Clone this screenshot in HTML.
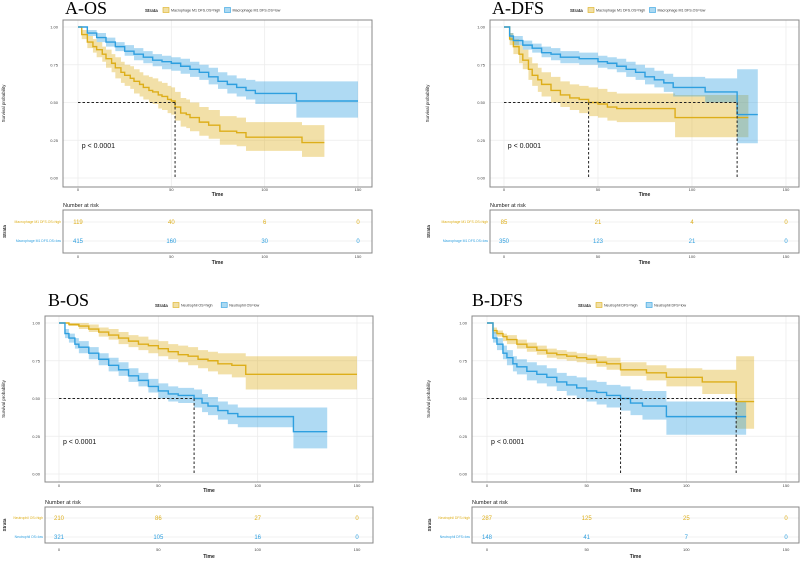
<!DOCTYPE html>
<html><head><meta charset="utf-8">
<style>
html,body{margin:0;padding:0;background:#fff;}
svg{display:block;font-family:"Liberation Sans",sans-serif;}
</style></head>
<body>
<svg id="fig" width="800" height="561" viewBox="0 0 800 561"></svg>
<script>
// ---- data arrays ----
const aosHighT=[0,2,5,8,10,13,15,18,20,23,25,28,30,33,35,38,40,43,45,48,50,52,55,58,60,65,70,76,85,90,100,110,120,132];
const aosHighS=[1,.95,.90,.87,.85,.82,.79,.76,.73,.70,.68,.66,.64,.62,.60,.58,.57,.55,.54,.52,.51,.47,.43,.42,.40,.37,.35,.31,.30,.27,.27,.27,.235,.235];
const aosHighLo=[1,.92,.86,.83,.80,.77,.73,.70,.66,.63,.61,.59,.56,.54,.52,.50,.49,.46,.45,.43,.42,.38,.34,.33,.31,.28,.26,.22,.21,.18,.18,.18,.14,.14];
const aosHighHi=[1,.98,.94,.92,.90,.87,.85,.82,.80,.77,.75,.74,.72,.70,.68,.67,.66,.64,.63,.61,.60,.57,.53,.52,.50,.47,.45,.41,.40,.37,.37,.37,.35,.35];
const aosLowT=[0,5,10,15,20,25,30,35,40,45,50,55,60,65,70,75,80,85,90,95,117,150];
const aosLowS=[1,.96,.93,.90,.87,.84,.82,.80,.78,.77,.76,.74,.72,.70,.67,.64,.62,.60,.58,.56,.51,.51];
const aosLowLo=[1,.94,.90,.87,.84,.81,.78,.76,.74,.72,.71,.69,.67,.65,.62,.59,.56,.54,.52,.49,.40,.40];
const aosLowHi=[1,.98,.96,.93,.90,.88,.86,.84,.82,.81,.80,.79,.77,.75,.73,.70,.68,.66,.65,.64,.64,.64];

const adfsHighT=[0,3,5,8,10,13,15,18,20,25,30,35,40,45,50,55,60,91,130];
const adfsHighS=[1,.92,.87,.82,.78,.72,.68,.65,.62,.58,.55,.53,.52,.50,.49,.47,.46,.40,.40];
const adfsHighLo=[1,.88,.82,.76,.72,.65,.61,.57,.54,.50,.47,.45,.43,.41,.40,.38,.37,.27,.27];
const adfsHighHi=[1,.96,.92,.88,.85,.80,.76,.73,.70,.67,.64,.62,.61,.60,.59,.57,.56,.55,.55];
const adfsLowT=[0,3,5,10,15,20,25,30,40,50,55,60,65,70,75,80,85,90,107,124,135];
const adfsLowS=[1,.94,.91,.88,.86,.83,.82,.80,.79,.77,.76,.74,.72,.70,.67,.65,.63,.60,.57,.42,.42];
const adfsLowLo=[1,.91,.88,.85,.83,.80,.78,.76,.75,.73,.72,.70,.67,.65,.62,.60,.57,.54,.50,.23,.23];
const adfsLowHi=[1,.96,.94,.91,.89,.87,.86,.84,.83,.81,.80,.79,.77,.75,.73,.71,.69,.67,.66,.72,.72];

const bosHighT=[0,5,10,15,20,25,30,35,40,45,50,55,60,65,70,75,80,87,94,150];
const bosHighS=[1,.99,.98,.96,.94,.92,.90,.88,.86,.85,.83,.81,.79,.78,.76,.75,.73,.72,.66,.66];
const bosHighLo=[1,.98,.96,.94,.91,.89,.86,.84,.82,.80,.78,.76,.74,.72,.70,.68,.66,.64,.56,.56];
const bosHighHi=[1,1,1,.99,.97,.96,.94,.92,.91,.89,.88,.86,.85,.84,.82,.81,.80,.80,.78,.78];
const bosLowT=[0,3,5,8,10,15,20,25,30,35,40,45,50,55,60,68,72,75,80,85,90,118,135];
const bosLowS=[1,.93,.90,.86,.84,.80,.76,.72,.69,.65,.62,.58,.55,.53,.52,.50,.47,.45,.42,.40,.38,.28,.28];
const bosLowLo=[1,.90,.87,.83,.80,.76,.72,.68,.65,.61,.58,.54,.50,.48,.47,.44,.41,.39,.36,.33,.31,.17,.17];
const bosLowHi=[1,.96,.93,.90,.88,.84,.80,.77,.74,.70,.67,.63,.60,.58,.57,.56,.53,.51,.48,.46,.44,.44,.44];

const bdfsHighT=[0,3,5,8,10,15,20,25,30,35,40,45,50,55,60,67,80,90,108,125,134];
const bdfsHighS=[1,.95,.93,.91,.89,.86,.84,.82,.80,.79,.78,.77,.76,.74,.73,.69,.67,.64,.61,.48,.48];
const bdfsHighLo=[1,.93,.91,.88,.86,.83,.81,.79,.77,.76,.75,.74,.73,.71,.69,.65,.62,.58,.53,.30,.30];
const bdfsHighHi=[1,.97,.95,.93,.92,.89,.87,.85,.83,.82,.81,.80,.79,.78,.77,.74,.72,.70,.69,.78,.78];
const bdfsLowT=[0,3,5,8,10,13,15,20,25,30,35,40,45,50,55,60,67,72,78,90,130];
const bdfsLowS=[1,.90,.86,.80,.77,.73,.71,.68,.66,.64,.61,.59,.57,.55,.54,.52,.50,.47,.45,.38,.38];
const bdfsLowLo=[1,.87,.82,.76,.72,.68,.66,.62,.60,.58,.55,.52,.50,.48,.46,.44,.42,.39,.36,.26,.26];
const bdfsLowHi=[1,.94,.90,.85,.82,.78,.76,.74,.72,.70,.67,.65,.64,.62,.61,.59,.58,.56,.55,.48,.48];

const aosRiskHigh=[119,40,6,0], aosRiskLow=[415,160,30,0];
const adfsRiskHigh=[85,21,4,0], adfsRiskLow=[350,123,21,0];
const bosRiskHigh=[210,86,27,0], bosRiskLow=[321,105,16,0];
const bdfsRiskHigh=[287,125,25,0], bdfsRiskLow=[148,41,7,0];

const xTicks=[0,50,100,150];
const yTicks=[0,0.25,0.5,0.75,1];
const yTickLabels=["0.00","0.25","0.50","0.75","1.00"];

const ORANGE="#DDAE1A", BLUE="#2E9FDF";
const NS="http://www.w3.org/2000/svg";
const svg=document.getElementById('fig');
function mk(tag,attrs,parent){const e=document.createElementNS(NS,tag);for(const k in attrs)e.setAttribute(k,attrs[k]);(parent||svg).appendChild(e);return e;}

const panels=[
 {id:'a-os',title:'A-OS',box:[63,20,372,187],xr:[78,358],yr:[27,178],risk:[63,210,372,253],rows:[222,241],tickY:191,timeY:196,rTickY:258,rTimeY:264,ytx:5,tx:65,ty:14,lx:145,ly:10,
  labs:['Macrophage M1 DFS.OS=high','Macrophage M1 DFS.OS=low'],
  hi:[aosHighT,aosHighS,aosHighLo,aosHighHi],lo:[aosLowT,aosLowS,aosLowLo,aosLowHi],rh:aosRiskHigh,rl:aosRiskLow},
 {id:'a-dfs',title:'A-DFS',box:[490,20,799,187],xr:[504,786],yr:[27,178],risk:[490,210,799,253],rows:[222,241],tickY:191,timeY:196,rTickY:258,rTimeY:264,ytx:429,tx:492,ty:14,lx:570,ly:10,
  labs:['Macrophage M1 DFS.OS=high','Macrophage M1 DFS.OS=low'],
  hi:[adfsHighT,adfsHighS,adfsHighLo,adfsHighHi],lo:[adfsLowT,adfsLowS,adfsLowLo,adfsLowHi],rh:adfsRiskHigh,rl:adfsRiskLow},
 {id:'b-os',title:'B-OS',box:[45,316,373,482],xr:[59,357],yr:[323,474],risk:[45,507,373,543],rows:[518,537],tickY:487,timeY:492,rTickY:551,rTimeY:558,ytx:5,tx:48,ty:306,lx:155,ly:305,
  labs:['Neutrophil OS=high','Neutrophil OS=low'],
  hi:[bosHighT,bosHighS,bosHighLo,bosHighHi],lo:[bosLowT,bosLowS,bosLowLo,bosLowHi],rh:bosRiskHigh,rl:bosRiskLow},
 {id:'b-dfs',title:'B-DFS',box:[472,316,799,482],xr:[487,786],yr:[323,474],risk:[472,507,799,543],rows:[518,537],tickY:487,timeY:492,rTickY:551,rTimeY:558,ytx:430,tx:472,ty:306,lx:578,ly:305,
  labs:['Neutrophil DFS=high','Neutrophil DFS=low'],
  hi:[bdfsHighT,bdfsHighS,bdfsHighLo,bdfsHighHi],lo:[bdfsLowT,bdfsLowS,bdfsLowLo,bdfsLowHi],rh:bdfsRiskHigh,rl:bdfsRiskLow}
];

function stepPts(T,S,X,Y){let p=[];for(let i=0;i<T.length;i++){if(i>0)p.push([X(T[i]),Y(S[i-1])]);p.push([X(T[i]),Y(S[i])]);}return p;}

panels.forEach(P=>{
  const g=mk('g',{});
  
  
  const X=t=>P.xr[0]+(P.xr[1]-P.xr[0])*t/150;
  const Y=s=>P.yr[1]-(P.yr[1]-P.yr[0])*s;
  const [bx0,by0,bx1,by1]=P.box;
  xTicks.forEach(t=>{const l=mk('line',{x1:X(t),x2:X(t),y1:by0,y2:by1,stroke:'#ececec','stroke-width':0.8},g);});
  yTicks.forEach(s=>{const l=mk('line',{x1:bx0,x2:bx1,y1:Y(s),y2:Y(s),stroke:'#ececec','stroke-width':0.8},g);});
  [[P.hi,ORANGE,'high'],[P.lo,BLUE,'low']].forEach(([D,c,nm])=>{
    const [T,S,Lo,Hi]=D;
    const up=stepPts(T,Hi,X,Y), dn=stepPts(T,Lo,X,Y).reverse();
    const rib=mk('polygon',{points:up.concat(dn).map(p=>p.join(',')).join(' '),fill:c,'fill-opacity':0.38,stroke:'none'},g);
    
    
  });
  [[P.hi,ORANGE,'high'],[P.lo,BLUE,'low']].forEach(([D,c,nm])=>{
    const [T,S]=D;
    const ln=mk('polyline',{points:stepPts(T,S,X,Y).map(p=>p.join(',')).join(' '),fill:'none',stroke:c,'stroke-width':1.4},g);
    
    
  });
  let meds=[];
  [P.hi,P.lo].forEach(D=>{const [T,S]=D;for(let i=0;i<T.length;i++){if(S[i]<=0.5){meds.push(T[i]);break;}}});
  if(meds.length){
    const mx=Math.max(...meds);
    const h=mk('line',{x1:X(0),x2:X(mx),y1:Y(0.5),y2:Y(0.5),stroke:'#222','stroke-width':1,'stroke-dasharray':'2.5,2'},g);
    
    
    meds.forEach(m=>{const v=mk('line',{x1:X(m),x2:X(m),y1:Y(0.5),y2:Y(0),stroke:'#222','stroke-width':1,'stroke-dasharray':'2.5,2'},g);});
  }
  const fr=mk('rect',{x:bx0,y:by0,width:bx1-bx0,height:by1-by0,fill:'none',stroke:'#888','stroke-width':1},g);
  
  
  yTicks.forEach((s,i)=>{const t=mk('text',{x:bx0-5,y:Y(s)+1.5,'font-size':4,fill:'#444','text-anchor':'end'},g);t.textContent=yTickLabels[i];});
  xTicks.forEach(v=>{const t=mk('text',{x:X(v),y:P.tickY,'font-size':4,fill:'#444','text-anchor':'middle'},g);t.textContent=v;});
  const tt=mk('text',{x:(bx0+bx1)/2,y:P.timeY,'font-size':5,'font-weight':'bold',fill:'#222','text-anchor':'middle'},g);tt.textContent='Time';
  
  const yt=mk('text',{x:P.ytx,y:(by0+by1)/2,'font-size':4.5,fill:'#222','text-anchor':'middle',transform:`rotate(-90 ${P.ytx} ${(by0+by1)/2})`},g);yt.textContent='Survival probability';
  
  const pv=mk('text',{x:X(2),y:Y(0.2),'font-size':7,fill:'#111'},g);pv.textContent='p < 0.0001';
  
  const ti=mk('text',{x:P.tx,y:P.ty,'font-size':18,'font-family':'"Liberation Serif",serif',fill:'#000'},g);ti.textContent=P.title;
  
  const ls=mk('text',{x:P.lx,y:P.ly+2,'font-size':4.5,'font-weight':'bold',fill:'#222'},g);ls.textContent='Strata';
  
  let lx=P.lx+18;
  [[ORANGE,P.labs[0]],[BLUE,P.labs[1]]].forEach(([c,lab])=>{
    const k=mk('rect',{x:lx,y:P.ly-2.5,width:6,height:5,fill:c,'fill-opacity':0.4,stroke:c,'stroke-width':0.6},g);
    
    const t=mk('text',{x:lx+8,y:P.ly+1.5,'font-size':3.6,fill:'#333'},g);t.textContent=lab;
    
    lx+=8+lab.length*1.9+6;
  });
  const [rx0,ry0,rx1,ry1]=P.risk;
  const nr=mk('text',{x:rx0,y:ry0-3,'font-size':5.5,fill:'#222'},g);nr.textContent='Number at risk';
  
  P.rows.forEach(y=>{const l=mk('line',{x1:rx0,x2:rx1,y1:y,y2:y,stroke:'#ececec','stroke-width':0.8},g);});
  const rf=mk('rect',{x:rx0,y:ry0,width:rx1-rx0,height:ry1-ry0,fill:'none',stroke:'#888','stroke-width':1},g);
  
  [[P.rh,ORANGE,P.rows[0],P.labs[0]],[P.rl,BLUE,P.rows[1],P.labs[1]]].forEach(([vals,c,y,lab])=>{
    const rl=mk('text',{x:rx0-2,y:y+1.2,'font-size':3.4,fill:c,'text-anchor':'end'},g);rl.textContent=lab;
    
    vals.forEach((v,i)=>{const t=mk('text',{x:X(xTicks[i]),y:y+2,'font-size':6,fill:c,'text-anchor':'middle'},g);t.textContent=v;
      });
  });
  xTicks.forEach(v=>{const t=mk('text',{x:X(v),y:P.rTickY,'font-size':4,fill:'#444','text-anchor':'middle'},g);t.textContent=v;});
  const rt=mk('text',{x:(rx0+rx1)/2,y:P.rTimeY,'font-size':5,'font-weight':'bold',fill:'#222','text-anchor':'middle'},g);rt.textContent='Time';
  
  const st=mk('text',{x:P.ytx+1,y:(ry0+ry1)/2,'font-size':4.5,'font-weight':'bold',fill:'#222','text-anchor':'middle',transform:`rotate(-90 ${P.ytx+1} ${(ry0+ry1)/2})`},g);st.textContent='Strata';
  
});
</script>
</body></html>
